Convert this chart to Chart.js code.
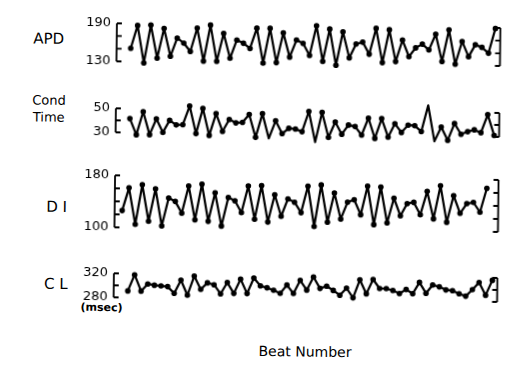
<!DOCTYPE html>
<html>
<head>
<meta charset="utf-8">
<title>Beat-to-beat alternans</title>
<script src="https://cdn.jsdelivr.net/npm/chart.js@4.4.1/dist/chart.umd.min.js"></script>
<style>
  html, body { margin: 0; padding: 0; background: #fff; }
  /* the printed figure sits slightly tilted on the page */
  #figure { position: relative; width: 506px; height: 366px; transform: rotate(0.69deg); transform-origin: 253px 183px; }
  #figure canvas { position: absolute; left: 0; }
  .lbl { position: absolute; font-family: "DejaVu Sans", sans-serif; color: #000; transform: translate(-50%, -50%); white-space: nowrap; line-height: 1.3; text-align: center; }
</style>
</head>
<body>
<div id="figure">
  <div class="lbl" style="left:47px;top:42px;font-size:15px">APD</div>
  <div class="lbl" style="left:48px;top:112px;font-size:13px">Cond<br>Time</div>
  <div class="lbl" style="left:57px;top:210px;font-size:15px">D I</div>
  <div class="lbl" style="left:57px;top:287px;font-size:15px">C L</div>
  <div class="lbl" style="left:103px;top:310px;font-size:11px;font-weight:bold">(msec)</div>
  <div class="lbl" style="left:307px;top:351px;font-size:14px">Beat Number</div>
  <canvas id="apdChart"></canvas>
  <canvas id="condChart"></canvas>
  <canvas id="diChart"></canvas>
  <canvas id="clChart"></canvas>
</div>
<script>
// beat index; DI of beat n is plotted one step ahead of APD n
const beatNumbers = [0, 1, 2, 3, 4, 5, 6, 7, 8, 9, 10, 11, 12, 13, 14, 15, 16, 17, 18, 19, 20,
  21, 22, 23, 24, 25, 26, 27, 28, 29, 30, 31, 32, 33, 34, 35, 36, 37, 38, 39, 40,
  41, 42, 43, 44, 45, 46, 47, 48, 49, 50, 51, 52, 53, 54, 55, 56];

// action potential duration (msec)
const apd = [151, 187, 128, 188, 136, 183, 139, 168, 160, 147, 184, 132, 189, 132,
  176, 137, 166, 161, 153, 185, 130, 185, 131, 178, 140, 167, 162, 143, 190, 134,
  185, 128, 181, 140, 162, 165, 146, 187, 133, 185, 135, 169, 143, 157, 163, 154,
  179, 136, 186, 132, 168, 144, 163, 159, 150, 189];

// conduction time (msec)
const condTime = [41.6, 28.2, 47.5, 28.4, 41.7, 30.4, 40.5, 36.8, 37.1, 52.7, 29.7,
  50.8, 28.4, 46.6, 31.9, 41.9, 39.1, 39.6, 46.3, 27.2, 47, 26.5, 41.2, 30.6, 35.1,
  34.6, 32.4, 49.4, 23.9, 48.7, 27.9, 40.8, 30.7, 38.4, 37.2, 30.2, 44.4, 27.6, 44.1,
  28.8, 40, 32.8, 39, 38.6, 33.7, 55.6, 25.7, 37.7, 26.7, 40.7, 31.9, 34.1, 35.7,
  33.4, 48.5, 31.3];

// diastolic interval (msec)
const di = [126, 161, 105, 166, 110, 160, 103, 146, 141, 123, 165, 113, 168, 111,
  155, 104, 148, 143, 125, 166, 115, 167, 111, 153, 120, 147, 142, 126, 167, 105,
  169, 112, 157, 117, 143, 147, 124, 168, 109, 167, 112, 150, 123, 142, 144, 125,
  161, 119, 170, 114, 155, 128, 143, 145, 130, 167];

// cycle length (msec)
const cl = [291, 318, 291, 303, 301, 300, 299, 288, 310, 285, 317, 295, 306, 303,
  288, 307, 289, 313, 289, 315, 302, 299, 295, 290, 304, 290, 312, 296, 318, 299,
  303, 296, 288, 300, 284, 314, 291, 315, 300, 300, 297, 292, 299, 292, 311, 293,
  307, 304, 299, 298, 293, 289, 300, 312, 291, 316];

const apdBeats = beatNumbers.slice(1);
const diBeats = beatNumbers.slice(0, 56);

const panels = [
  { id: 'apdChart', beats: apdBeats, values: apd, min: 130, max: 190, top: 25, bottom: 63.4 },
  { id: 'condChart', beats: apdBeats, values: condTime, min: 30, max: 50, top: 109.6, bottom: 133.6 },
  { id: 'diChart', beats: diBeats, values: di, min: 100, max: 180, top: 177.2, bottom: 229.5 },
  { id: 'clChart', beats: apdBeats, values: cl, min: 280, max: 320, top: 275.2, bottom: 298.7 }
];

const PAD = 14;
const AXIS_X = 115;
const RIGHT_PAD = 7.5;

// brackets on both sides with short inward ticks
const bracketPlugin = {
  id: 'brackets',
  afterDraw(chart) {
    const ctx = chart.ctx;
    const y = chart.scales.y;
    const { left, right } = chart.chartArea;
    const top = y.getPixelForValue(y.max);
    const bottom = y.getPixelForValue(y.min);
    ctx.save();
    ctx.strokeStyle = '#000';
    ctx.lineWidth = 1.8;
    ctx.beginPath();
    ctx.moveTo(left, top);
    ctx.lineTo(left, bottom);
    ctx.moveTo(right, top);
    ctx.lineTo(right, bottom);
    y.ticks.forEach(t => {
      const py = y.getPixelForValue(t.value);
      ctx.moveTo(left, py);
      ctx.lineTo(left + 5, py);
      ctx.moveTo(right, py);
      ctx.lineTo(right - 5, py);
    });
    ctx.stroke();
    ctx.restore();
  }
};

panels.forEach(p => {
  const canvas = document.getElementById(p.id);
  const h = Math.round(p.bottom - p.top + 2 * PAD);
  canvas.width = 506;
  canvas.height = h;
  canvas.style.top = (p.top - PAD) + 'px';
  canvas.style.width = '506px';
  canvas.style.height = h + 'px';

  new Chart(canvas.getContext('2d'), {
    type: 'line',
    data: {
      datasets: [{
        data: p.beats.map((b, i) => ({ x: b, y: p.values[i] })),
        borderColor: '#000',
        borderWidth: 2.2,
        borderJoinStyle: 'round',
        borderCapStyle: 'round',
        pointRadius: 2.8,
        pointBackgroundColor: '#000',
        pointBorderWidth: 0,
        tension: 0,
        clip: false
      }]
    },
    options: {
      responsive: false,
      animation: false,
      devicePixelRatio: 1,
      layout: { padding: { top: PAD, bottom: PAD, left: 0, right: RIGHT_PAD } },
      plugins: { legend: { display: false }, tooltip: { enabled: false } },
      scales: {
        x: { type: 'linear', min: -1.13, max: 56.75, display: false },
        y: {
          min: p.min,
          max: p.max,
          position: 'left',
          afterFit: scale => { scale.width = AXIS_X; },
          grid: { display: false, drawTicks: false },
          border: { display: false },
          ticks: {
            stepSize: 20,
            autoSkip: false,
            padding: 6,
            color: '#000',
            font: { family: 'DejaVu Sans', size: 13 },
            callback: v => (v === p.min || v === p.max) ? v : ''
          }
        }
      }
    },
    plugins: [bracketPlugin]
  });
});
</script>
</body>
</html>
